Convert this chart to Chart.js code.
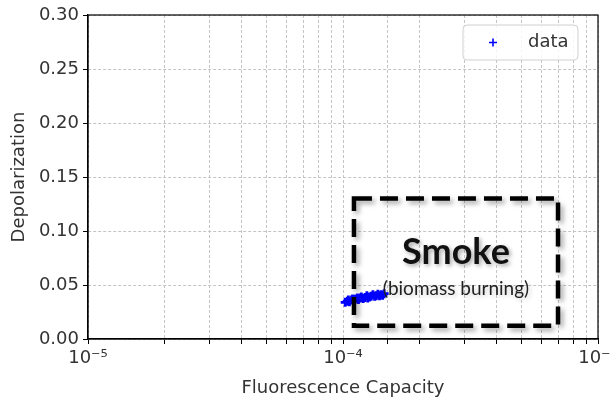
<!DOCTYPE html>
<html>
<head>
<meta charset="utf-8">
<script src="https://cdn.jsdelivr.net/npm/chart.js@4"></script>
<style>
  html, body { margin: 0; padding: 0; background: #fff; }
  #wrap { width: 611px; height: 402px; }
</style>
</head>
<body>
<div id="wrap"><canvas id="chart" width="611" height="402"></canvas></div>
<script>
// scatter values
const xValues = [1.02e-4, 1.04e-4, 1.05e-4, 1.06e-4, 1.08e-4, 1.09e-4, 1.10e-4, 1.11e-4, 1.12e-4,
    1.14e-4, 1.15e-4, 1.17e-4, 1.18e-4, 1.20e-4, 1.22e-4, 1.24e-4, 1.25e-4, 1.27e-4, 1.29e-4,
    1.31e-4, 1.33e-4, 1.35e-4, 1.37e-4, 1.39e-4, 1.41e-4, 1.43e-4, 1.45e-4];
const yValues = [0.034, 0.035, 0.036, 0.0345, 0.036, 0.037, 0.0355, 0.0365, 0.037,
    0.038, 0.0365, 0.038, 0.039, 0.0375, 0.0385, 0.040, 0.038, 0.039, 0.0395,
    0.041, 0.0395, 0.040, 0.0415, 0.040, 0.041, 0.0405, 0.042];

const xTicks = [1e-5, 1e-4, 1e-3];
const xTickLabels = ['10\u207B\u2075', '10\u207B\u2074', '10\u207B\u00B3'];
const yMin = 0, yMax = 0.30, yStep = 0.05;

// smoke region (data coords)
const boxX = [1.104e-4, 6.97e-4];
const boxY = [0.0123, 0.130];
const boxTitle = 'Smoke';
const boxSubtitle = '(biomass burning)';
const seriesName = 'data';

const points = xValues.map((x, i) => ({ x: x, y: yValues[i] }));
const tickFont = { family: 'DejaVu Sans', size: 18 };
const textColor = '#333';

const extras = {
    id: 'extras',
    afterDraw(chart) {
        const ctx = chart.ctx;
        const a = chart.chartArea;
        const xs = chart.scales.x, ys = chart.scales.y;
        ctx.save();
        // frame on all sides
        ctx.strokeStyle = '#000';
        ctx.lineWidth = 1.2;
        ctx.strokeRect(a.left, a.top, a.right - a.left, a.bottom - a.top);

        // dashed box with shadow
        const l = xs.getPixelForValue(boxX[0]), r = xs.getPixelForValue(boxX[1]);
        const t = ys.getPixelForValue(boxY[1]), b = ys.getPixelForValue(boxY[0]);
        ctx.shadowColor = 'rgba(0,0,0,0.35)';
        ctx.shadowBlur = 5;
        ctx.shadowOffsetX = 3;
        ctx.shadowOffsetY = 3;
        ctx.strokeStyle = '#000';
        ctx.lineWidth = 4.5;
        ctx.setLineDash([18, 8]);
        ctx.strokeRect(l, t, r - l, b - t);
        ctx.setLineDash([]);

        const cx = (l + r) / 2;
        ctx.textAlign = 'center';
        ctx.textBaseline = 'middle';
        ctx.fillStyle = '#111';
        ctx.shadowOffsetX = 2;
        ctx.shadowOffsetY = 2;
        ctx.shadowBlur = 4;
        ctx.font = 'bold 36px Lato';
        ctx.fillText(boxTitle, cx, 252);
        ctx.shadowColor = 'rgba(0,0,0,0.2)';
        ctx.font = '19px Lato';
        ctx.fillStyle = '#222';
        ctx.fillText(boxSubtitle, cx, 289);
        ctx.restore();

        // legend
        ctx.save();
        const lx = a.right - 135, ly = a.top + 10, lw = 115, lh = 35;
        ctx.fillStyle = 'rgba(255,255,255,0.85)';
        ctx.strokeStyle = '#d0d0d0';
        ctx.lineWidth = 1;
        ctx.beginPath();
        ctx.roundRect(lx, ly, lw, lh, 4);
        ctx.fill();
        ctx.stroke();
        ctx.strokeStyle = '#0000ff';
        ctx.lineWidth = 1.6;
        ctx.beginPath();
        ctx.moveTo(lx + 26, ly + lh / 2);
        ctx.lineTo(lx + 34, ly + lh / 2);
        ctx.moveTo(lx + 30, ly + lh / 2 - 4);
        ctx.lineTo(lx + 30, ly + lh / 2 + 4);
        ctx.stroke();
        ctx.fillStyle = textColor;
        ctx.font = '18px DejaVu Sans';
        ctx.textAlign = 'left';
        ctx.textBaseline = 'middle';
        ctx.fillText(seriesName, lx + 65, ly + lh / 2);
        ctx.restore();
    }
};

new Chart(document.getElementById('chart'), {
    type: 'scatter',
    data: {
        datasets: [{
            label: seriesName,
            data: points,
            pointStyle: 'cross',
            radius: 4.5,
            borderWidth: 2.8,
            borderColor: '#0000ff',
            backgroundColor: '#0000ff'
        }]
    },
    options: {
        responsive: false,
        animation: false,
        layout: { padding: { top: 15, right: 13, left: 0, bottom: 0 } },
        plugins: { legend: { display: false }, tooltip: { enabled: false } },
        scales: {
            x: {
                type: 'logarithmic',
                min: xTicks[0],
                max: xTicks[xTicks.length - 1],
                border: { display: true, color: '#000', width: 1.2, dash: [3, 2] },
                grid: {
                    color: '#c4c4c4',
                    tickColor: '#000',
                    tickLength: 5,
                    tickBorderDash: [],
                    drawTicks: true
                },
                ticks: {
                    autoSkip: false,
                    maxRotation: 0,
                    color: textColor,
                    font: tickFont,
                    padding: 4,
                    callback: function (value) {
                        const i = xTicks.findIndex(t => Math.abs(Math.log10(value) - Math.log10(t)) < 1e-6);
                        return i >= 0 ? xTickLabels[i] : '';
                    }
                },
                title: {
                    display: true,
                    text: 'Fluorescence Capacity',
                    color: textColor,
                    font: tickFont,
                    padding: { top: 4, bottom: 3 }
                },
                afterFit: function (s) { s.height = 63; s.paddingLeft = 0; s.paddingRight = 0; }
            },
            y: {
                min: yMin,
                max: yMax,
                border: { display: true, color: '#000', width: 1.2, dash: [3, 2] },
                grid: {
                    color: '#c4c4c4',
                    tickColor: '#000',
                    tickLength: 5,
                    tickBorderDash: []
                },
                ticks: {
                    stepSize: yStep,
                    color: textColor,
                    font: tickFont,
                    padding: 4,
                    callback: v => Number(v).toFixed(2)
                },
                title: {
                    display: true,
                    text: 'Depolarization',
                    color: textColor,
                    font: tickFont,
                    padding: { top: 9, bottom: 4 }
                },
                afterFit: function (s) { s.width = 88; s.paddingTop = 0; s.paddingBottom = 0; }
            }
        }
    },
    plugins: [extras]
});
</script>
</body>
</html>
